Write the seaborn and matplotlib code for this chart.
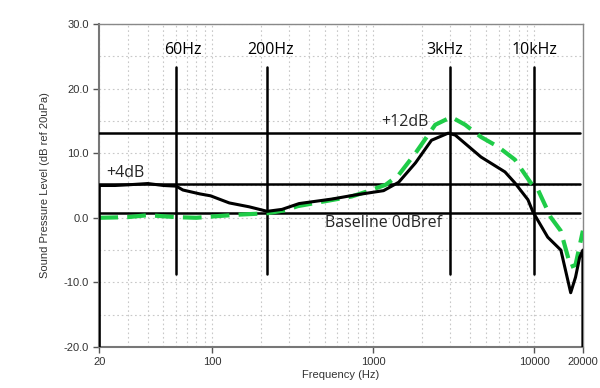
#!/usr/bin/env python3

import pandas as pd
import seaborn as sns
import matplotlib.pyplot as plt
from matplotlib.ticker import FixedLocator, NullFormatter, LogLocator

# measured response (black, solid)
freq_meas = [20, 20, 25, 30, 40, 50, 60, 66, 84, 98, 128, 170, 220, 272, 347, 555, 760,
             1160, 1440, 1830, 2300, 2920, 3230, 4670, 6570, 7570, 9120, 9800, 12100,
             14600, 16800, 18000, 19100, 20000, 20000]
spl_meas = [-20, 5.0, 5.0, 5.1, 5.3, 5.0, 4.9, 4.3, 3.7, 3.4, 2.3, 1.7, 1.0, 1.3, 2.2, 2.9, 3.5,
            4.2, 5.5, 8.5, 12.0, 13.1, 12.8, 9.4, 7.1, 5.4, 2.8, 0.9, -3.0,
            -5.0, -11.6, -9.2, -6.1, -5.0, -20]

# target response (green, dashed)
freq_target = [20, 30, 40, 60, 80, 100, 150, 220, 290, 340, 736, 898, 1194, 1436, 1829,
               2427, 3050, 3720, 4670, 5950, 7570, 9500, 10500, 12620, 14560, 16800, 18000, 20000]
spl_target = [0.0, 0.1, 0.4, 0.1, 0.0, 0.2, 0.5, 0.7, 1.2, 1.8, 3.3, 4.0, 5.1, 6.6, 10.0,
              14.4, 15.6, 14.4, 12.5, 11.0, 9.0, 5.4, 4.4, 0.1, -2.0, -7.6, -7.3, -2.0]

# reference lines
ref_levels = [13.1, 5.2, 0.75]
ref_freqs = [60, 220, 3000, 10000]
ref_labels = ["60Hz", "200Hz", "3kHz", "10kHz"]
ref_label_pos = [66, 230, 2760, 10040]

meas = pd.DataFrame({"Frequency (Hz)": freq_meas, "SPL": spl_meas})
target = pd.DataFrame({"Frequency (Hz)": freq_target, "SPL": spl_target})

sns.set_style("white")
plt.rcParams["font.family"] = ["Liberation Sans", "DejaVu Sans"]

fig = plt.figure(figsize=(6, 3.88), dpi=100)
ax = fig.add_axes([0.1655, 0.1057, 0.806, 0.8325])

ax.set_xscale("log")
ax.set_xlim(20, 20000)
ax.set_ylim(-20, 30)

# reference grid of black lines
for lvl in ref_levels:
    ax.plot([20, 19300], [lvl, lvl], color="black", lw=1.8, zorder=3)
for f, lab, pos in zip(ref_freqs, ref_labels, ref_label_pos):
    ax.plot([f, f], [-8.7, 23.3], color="black", lw=1.8, zorder=3)
    ax.text(pos, 26.0, lab, ha="center", va="center", fontsize=11.5,
            family="Open Sans", color="black")

sns.lineplot(data=target, x="Frequency (Hz)", y="SPL", ax=ax, color="#1fcc48",
             lw=3, estimator=None, sort=False, zorder=4, linestyle=(0, (4.5, 2.2)))
sns.lineplot(data=meas, x="Frequency (Hz)", y="SPL", ax=ax, color="black",
             lw=2.2, estimator=None, sort=False, zorder=5)

ax.text(22.0, 7.0, "+4dB", fontsize=11.5, family="Open Sans", va="center")
ax.text(2200, 14.8, "+12dB", fontsize=11.5, family="Open Sans", va="center", ha="right")
ax.text(500, -0.8, "Baseline 0dBref", fontsize=11.5, family="Open Sans", va="center")

ax.xaxis.set_major_locator(FixedLocator([20, 100, 1000, 10000, 20000]))
ax.set_xticklabels(["20", "100", "1000", "10000", "20000"])
ax.xaxis.set_minor_locator(LogLocator(base=10, subs=range(2, 10), numticks=20))
ax.xaxis.set_minor_formatter(NullFormatter())
ax.set_yticks([-20, -10, 0, 10, 20, 30])
ax.set_yticklabels(["-20.0", "-10.0", "0.0", "10.0", "20.0", "30.0"])
ax.set_yticks([-15, -5, 5, 15, 25], minor=True)

ax.grid(True, which="both", color="#c8c8c8", ls=(0, (1.5, 2.5)), lw=0.8)
ax.tick_params(axis="both", which="major", labelsize=8, labelcolor="#333333",
               color="#555555", length=4, width=1, bottom=True, left=True)
ax.tick_params(axis="both", which="minor", length=0)

for side in ["left", "bottom"]:
    ax.spines[side].set_color("#777777")
    ax.spines[side].set_linewidth(1.5)
for side in ["top", "right"]:
    ax.spines[side].set_color("#888888")
    ax.spines[side].set_linewidth(1)

ax.set_xlabel("Frequency (Hz)", fontsize=8, color="#333333", labelpad=2)
ax.set_ylabel("Sound Pressure Level (dB ref 20uPa)", fontsize=8, color="#333333", labelpad=10)

fig.savefig("out.png", dpi=100)
